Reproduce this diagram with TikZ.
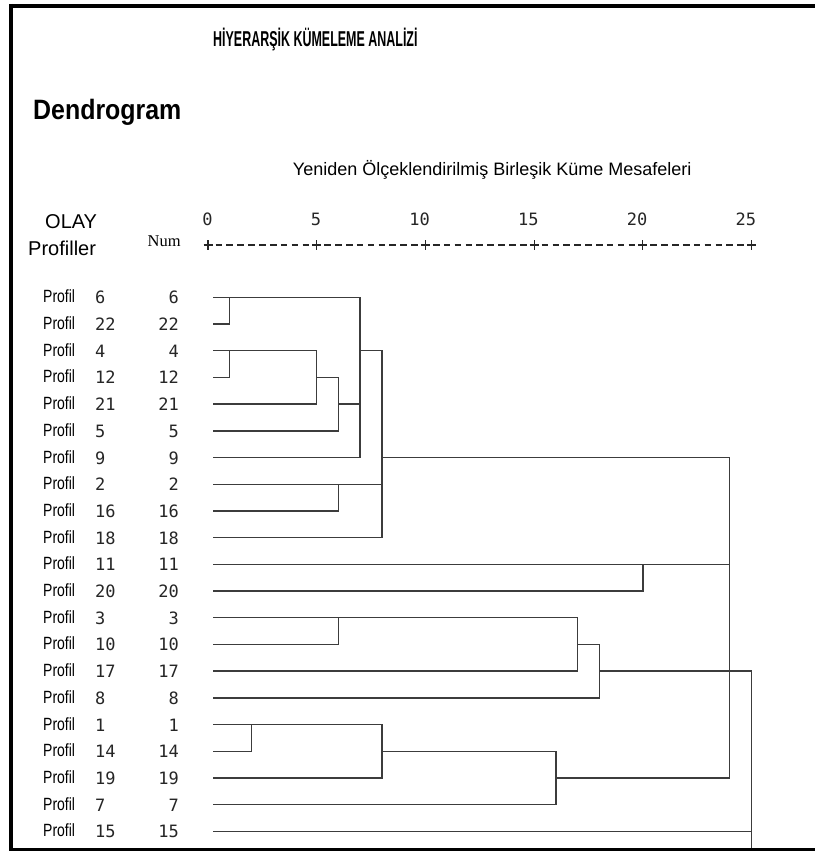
\documentclass[tikz,border=0pt]{standalone}
\usepackage{fontspec}
\setmainfont{Liberation Sans}
\newfontfamily\titlefont[FakeStretch=0.58]{Liberation Sans}
\newfontfamily\headfont[FakeStretch=0.89]{Liberation Sans}
\newfontfamily\narrowfont[FakeStretch=0.79]{Liberation Sans}
\newfontfamily\digitfont{DejaVu Sans Mono}
\newfontfamily\numfont{Liberation Serif}
\definecolor{dengray}{HTML}{3C3C3C}
\newcommand{\fsz}[1]{\fontsize{#1}{#1}\selectfont}

\begin{document}
\begin{tikzpicture}[x=1pt,y=-1pt,
    txt/.style={inner sep=0pt,anchor=base west},
    prof/.style={txt,font=\narrowfont\fsz{17.7}},
    num/.style={inner sep=0pt,font=\digitfont\fsz{17},text=black!85},
    axnum/.style={num,anchor=base east},
    axis/.style={line width=1.2pt,black!85},
    den/.style={dengray,line width=1.4pt}]
  \useasboundingbox (0,0) rectangle (814,851);
  \fill[white] (-6,-6) rectangle (822,858);
  % frame
  \draw[line width=4pt] (9.3,6) -- (822,6);
  \draw[line width=4pt] (11.3,4) -- (11.3,858);
  \draw[line width=3pt] (9.3,849.5) -- (822,849.5);
  % headings
  \node[txt,font=\titlefont\bfseries\fsz{21.5}] (title) at (213,46.7) {HİYERARŞİK KÜMELEME ANALİZİ};
  \node[txt,font=\headfont\bfseries\fsz{28}] (dendro) at (33,119) {Dendrogram};
  \node[txt,font=\fsz{18}] (scale) at (292.7,175) {Yeniden Ölçeklendirilmiş Birleşik Küme Mesafeleri};
  \node[txt,font=\fsz{20}] (olay) at (45,228) {OLAY};
  \node[txt,font=\fsz{20}] (profiller) at (28,255) {Profiller};
  \node[txt,font=\numfont\fsz{16.5}] (numhd) at (147.5,246) {Num};
  % axis
  \foreach \v in {0,5,...,25}
    \node[axnum] (t\v) at ({208+21.74*\v+4.7},225) {\v};
  \foreach \k in {0,...,50}{
    \pgfmathtruncatemacro{\r}{mod(\k,10)}
    \ifnum\r=0
      \draw[axis] ({208+10.87*\k-4.5},245) -- ++(9,0) ({208+10.87*\k},240) -- ++(0,10);
    \else
      \draw[axis] ({208+10.87*\k-3.3},245) -- ++(6.6,0);
    \fi}
  % case labels
  \foreach \p [count=\i from 0] in {6,22,4,12,21,5,9,2,16,18,11,20,3,10,17,8,1,14,19,7,15}{
    \node[prof] (p\p) at (43,{302.8+26.7*\i}) {Profil};
    \node[num,anchor=base west] (c\p) at (95,{303.8+26.7*\i}) {\p};
    \node[num,anchor=base east] (n\p) at (179,{303.8+26.7*\i}) {\p};
  }
  % tree (x = rescaled distance, y = row)
  \begin{scope}[shift={(208,297.3)},x=21.74pt,y=-26.7pt]
    \def\s{0.23}
    \draw[den] (\s,0) -- (7,0) -- (7,6) -- (\s,6);
    \draw[den] (1,0) -- (1,1) -- (\s,1);
    \draw[den] (\s,2) -- (5,2) -- (5,4) -- (\s,4);
    \draw[den] (1,2) -- (1,3) -- (\s,3);
    \draw[den] (5,3) -- (6,3) -- (6,5) -- (\s,5);
    \draw[den] (6,4) -- (7,4);
    \draw[den] (7,2) -- (8,2) -- (8,9) -- (\s,9);
    \draw[den] (\s,7) -- (8,7);
    \draw[den] (6,7) -- (6,8) -- (\s,8);
    \draw[den] (8,6) -- (24,6) -- (24,18) -- (16,18);
    \draw[den] (\s,10) -- (24,10);
    \draw[den] (20,10) -- (20,11) -- (\s,11);
    \draw[den] (\s,12) -- (17,12) -- (17,14) -- (\s,14);
    \draw[den] (6,12) -- (6,13) -- (\s,13);
    \draw[den] (17,13) -- (18,13) -- (18,15) -- (\s,15);
    \draw[den] (18,14) -- (25,14) -- (25,20.63);
    \draw[den] (\s,16) -- (8,16) -- (8,18) -- (\s,18);
    \draw[den] (2,16) -- (2,17) -- (\s,17);
    \draw[den] (8,17) -- (16,17) -- (16,19) -- (\s,19);
    \draw[den] (\s,20) -- (25,20);
  \end{scope}
\end{tikzpicture}
\end{document}
